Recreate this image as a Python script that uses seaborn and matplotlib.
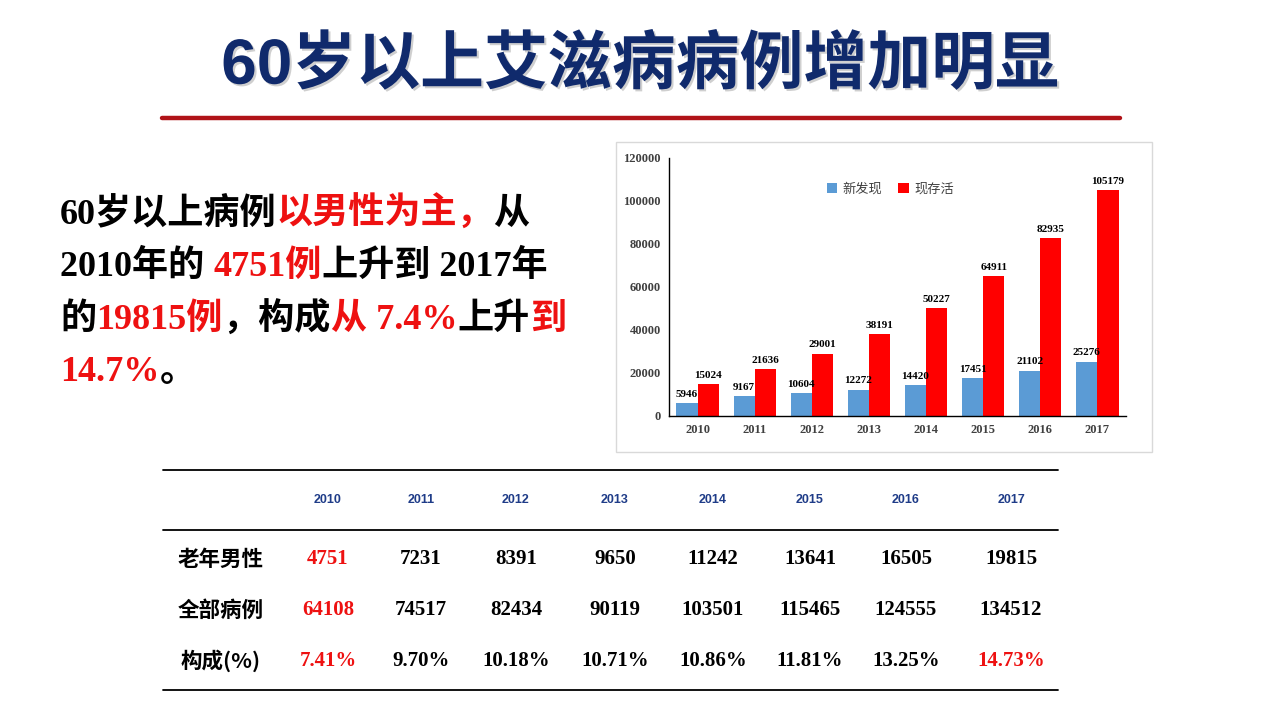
import matplotlib
matplotlib.use("Agg")
import matplotlib.pyplot as plt
import matplotlib.patheffects as pe
from matplotlib.patches import Rectangle
from matplotlib.lines import Line2D
import seaborn as sns
import pandas as pd

# ---------------- data ----------------
years = ["2010", "2011", "2012", "2013", "2014", "2015", "2016", "2017"]
new_found = [5946, 9167, 10604, 12272, 14420, 17451, 21102, 25276]
living = [15024, 21636, 29001, 38191, 50227, 64911, 82935, 105179]
series_names = ["新发现", "现存活"]
yticks = [0, 20000, 40000, 60000, 80000, 100000, 120000]

row_labels = ["老年男性", "全部病例", "构成(%)"]
old_male = ["4751", "7231", "8391", "9650", "11242", "13641", "16505", "19815"]
all_cases = ["64108", "74517", "82434", "90119", "103501", "115465", "124555", "134512"]
proportion = ["7.41%", "9.70%", "10.18%", "10.71%", "10.86%", "11.81%", "13.25%", "14.73%"]

title = "60岁以上艾滋病病例增加明显"
RED = "#ee1111"
BLACK = "#000000"
para_lines = [
    [("60岁以上病例", BLACK), ("以男性为主，", RED), ("从", BLACK)],
    [("2010年的 ", BLACK), ("4751例", RED), ("上升到 2017年", BLACK)],
    [("的", BLACK), ("19815例", RED), ("，构成", BLACK), ("从 7.4%", RED), ("上升", BLACK), ("到", RED)],
    [("14.7%", RED), ("。", BLACK)],
]

# ---------------- figure ----------------
sns.set_theme(style="white")
plt.rcParams["font.family"] = ["Liberation Serif", "Noto Sans CJK SC", "DejaVu Sans"]

W, H = 1280, 720
fig = plt.figure(figsize=(12.8, 7.2), dpi=100)
fig.patch.set_facecolor("white")

# overlay axes in pixel coordinates
ov = fig.add_axes([0, 0, 1, 1])
ov.set_xlim(0, W)
ov.set_ylim(H, 0)
ov.axis("off")

# title
ov.text(640, 66, title, ha="center", va="center", fontsize=46, fontweight="bold",
        color="#102a6c", family=["Liberation Sans", "Noto Sans CJK SC"],
        path_effects=[pe.withSimplePatchShadow(offset=(1.5, -1.5), shadow_rgbFace="#a0a0a0", alpha=0.5)])
ov.add_line(Line2D([162, 1120], [118, 118], color="#b01318", lw=3.2))

# paragraph (multicolour)
fig.canvas.draw()
renderer = fig.canvas.get_renderer()
baselines = [224, 276, 329, 381]
for line, yb in zip(para_lines, baselines):
    x = 60
    for txt, col in line:
        t = ov.text(x, yb, txt, ha="left", va="baseline", fontsize=26, fontweight="bold",
                    color=col, family=["Liberation Serif", "Noto Sans CJK SC"])
        bb = t.get_window_extent(renderer)
        x += bb.width

# chart frame
ov.add_patch(Rectangle((616, 142), 536, 310, fill=False, edgecolor="#d9d9d9", lw=1.0))

# ---------------- bar chart ----------------
ax = fig.add_axes([669 / W, 1 - 416 / H, (1126 - 669) / W, (416 - 158) / H])
df = pd.DataFrame({
    "year": years * 2,
    "value": new_found + living,
    "series": [series_names[0]] * len(years) + [series_names[1]] * len(years),
})
sns.barplot(data=df, x="year", y="value", hue="series", palette=["#5b9bd5", "#ff0000"],
            width=0.74, ax=ax, saturation=1, edgecolor="none", linewidth=0)
ax.set_ylim(0, 120000)
ax.set_yticks(yticks)
ax.set_yticklabels([str(v) for v in yticks])
ax.set_xlabel("")
ax.set_ylabel("")
ax.set_facecolor("none")
for s in ["top", "right"]:
    ax.spines[s].set_visible(False)
for s in ["left", "bottom"]:
    ax.spines[s].set_color("black")
    ax.spines[s].set_linewidth(1.0)
ax.tick_params(axis="both", length=0, pad=6, labelsize=9, labelcolor="#404040")
for lab in ax.get_xticklabels() + ax.get_yticklabels():
    lab.set_fontweight("bold")
    lab.set_family("Liberation Serif")

for cont, vals in zip(ax.containers, [new_found, living]):
    ax.bar_label(cont, labels=[str(v) for v in vals], padding=3, fontsize=8,
                 fontweight="bold", color="black", family="Liberation Serif")

handles, labels = ax.get_legend_handles_labels()
ax.legend(handles, labels, loc="center", bbox_to_anchor=(0.484, 0.88), ncol=2, frameon=False,
          handlelength=0.8, handleheight=0.8, handletextpad=0.4, columnspacing=1.2,
          prop={"family": "Noto Sans CJK SC", "size": 9.5})
for t in ax.get_legend().get_texts():
    t.set_color("#404040")

# ---------------- table ----------------
col_x = [328, 421, 516, 615, 713, 810, 906, 1011]
for yl in [470, 530, 690]:
    ov.add_line(Line2D([163, 1058], [yl, yl], color="black", lw=1.3))
for x, yr in zip(col_x, years):
    ov.text(x, 500, yr, ha="center", va="center", fontsize=9, fontweight="bold",
            color="#1f3c88", family="Liberation Sans")
row_y = [559, 610, 661]
rows = [old_male, all_cases, proportion]
for yv, lab, vals in zip(row_y, row_labels, rows):
    ov.text(221, yv, lab, ha="center", va="center", fontsize=15.5, fontweight="bold",
            color="black", family=["Noto Sans CJK SC"])
    for i, (x, v) in enumerate(zip(col_x, vals)):
        col = RED if (i == 0 or (vals is proportion and i == len(vals) - 1)) else "black"
        ov.text(x, yv, v, ha="center", va="center", fontsize=15, fontweight="bold",
                color=col, family="Liberation Serif")

fig.savefig("out.png", dpi=100)
